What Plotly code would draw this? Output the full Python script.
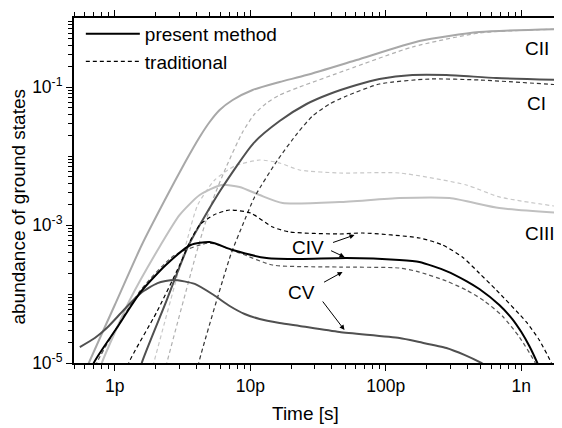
import plotly.graph_objects as go

# ---------------- data (time in ps, abundance) ----------------
cii_t = [0.571, 0.643, 1.0, 1.581, 2.34, 3.28, 4.23, 5.01, 5.94, 7.41, 10.4, 16.45, 26.0, 60.8, 177, 490, 1972]
cii_v = [5.7e-6, 1e-5, 6.93e-5, 5.13e-4, 2.3e-3, 7.92e-3, 0.01885, 0.0311, 0.0464, 0.0648, 0.0905, 0.1181, 0.149, 0.246, 0.464, 0.627, 0.693]
cii_tr_t = [2.26, 2.42, 4.16, 5.28, 6.69, 8.78, 10.76, 13.19, 16.45, 23.1, 51.3, 157, 490, 1972]
cii_tr_v = [5.7e-6, 1e-5, 5.13e-4, 2.3e-3, 7.16e-3, 0.0223, 0.0406, 0.0586, 0.0766, 0.1, 0.1764, 0.38, 0.606, 0.693]

ci_t = [1.477, 1.581, 2.34, 3.51, 6.04, 10.58, 16.45, 26.0, 38.4, 60.8, 89.8, 157, 280, 654, 1972]
ci_v = [5.7e-6, 1e-5, 6.93e-5, 5.13e-4, 3.21e-3, 0.0154, 0.0321, 0.0567, 0.0792, 0.1069, 0.1305, 0.1492, 0.1492, 0.135, 0.1263]
ci_tr_t = [3.95, 4.16, 7.16, 8.78, 10.76, 15.9, 22.3, 28.8, 38.4, 51.3, 89.8, 210, 490, 1972]
ci_tr_v = [5.7e-6, 1e-5, 3.67e-4, 1e-3, 2.55e-3, 8.75e-3, 0.0215, 0.038, 0.0567, 0.0741, 0.1105, 0.1305, 0.1263, 0.1069]

ciii_t = [0.737, 0.802, 1.29, 2.18, 3.01, 4.23, 6.14, 8.34, 11.72, 17.31, 45.5, 126, 295, 688, 1972]
ciii_v = [5.7e-6, 1e-5, 8.18e-5, 5.13e-4, 1.4e-3, 2.72e-3, 3.8e-3, 3.55e-3, 2.72e-3, 2.08e-3, 2.15e-3, 2.46e-3, 2.46e-3, 1.76e-3, 1.49e-3]
ciii_tr_t = [1.81, 1.939, 3.34, 4.09, 5.46, 7.66, 11.72, 16.45, 23.1, 45.5, 126, 393, 688, 1972]
ciii_tr_v = [5.7e-6, 1e-5, 5.13e-4, 1.95e-3, 4.49e-3, 7.16e-3, 8.75e-3, 7.92e-3, 6.27e-3, 5.67e-3, 5.67e-3, 3.8e-3, 2.55e-3, 1.82e-3]

civ_t = [0.654, 0.700, 1.034, 1.554, 2.38, 3.63, 5.01, 7.41, 13.19, 23.1, 51.3, 126, 177, 280, 393, 490, 688, 858, 1000, 1145, 1312, 1477]
civ_v = [5.7e-6, 1e-5, 3.21e-5, 1.07e-4, 2.63e-4, 5.13e-4, 5.67e-4, 4.34e-4, 3.32e-4, 3.21e-4, 3.32e-4, 3.11e-4, 2.91e-4, 2.15e-4, 1.54e-4, 1.18e-4, 6.93e-5, 4.34e-5, 2.81e-5, 1.76e-5, 1e-5, 5.7e-6]
civ_tr_t = [1.185, 1.268, 2.04, 3.01, 3.63, 4.23, 5.37, 7.04, 10.06, 14.61, 19.49, 45.5, 67.3, 177, 262, 367, 490, 654, 1088, 1357, 1664, 1781]
civ_tr_v = [5.7e-6, 1e-5, 5.48e-5, 2.63e-4, 6.06e-4, 1e-3, 1.4e-3, 1.65e-3, 1.49e-3, 9.35e-4, 7.92e-4, 7.41e-4, 7.66e-4, 6.48e-4, 5.13e-4, 3.44e-4, 2.0e-4, 1.14e-4, 3.93e-5, 2.15e-5, 1e-5, 6.8e-6]

cv_t = [0.552, 0.712, 0.873, 1.165, 1.554, 2.07, 2.72, 3.89, 5.37, 7.04, 9.08, 11.72, 16.45, 23.1, 45.5, 126, 177, 280, 380, 507, 581]
cv_v = [1.7e-5, 2.3e-5, 3.21e-5, 5.86e-5, 1.03e-4, 1.44e-4, 1.6e-4, 1.4e-4, 9.67e-5, 6.7e-5, 5.13e-5, 4.34e-5, 3.8e-5, 3.44e-5, 2.81e-5, 2.3e-5, 2.01e-5, 1.65e-5, 1.31e-5, 1e-5, 8.47e-6]
cv_tr_t = [0.688, 0.737, 1.554, 2.77, 5.01, 8.34, 14.61, 45.5, 126, 177, 280, 393, 534, 724, 967, 1268, 1357]
cv_tr_v = [5.7e-6, 1e-5, 1.14e-4, 3.67e-4, 5.48e-4, 3.93e-4, 2.63e-4, 2.46e-4, 2.38e-4, 2.08e-4, 1.54e-4, 1.14e-4, 7.92e-5, 4.8e-5, 2.38e-5, 1e-5, 7.16e-6]

x_tickvals_ps = [1, 10, 100, 1000]
x_ticktext = ["1p", "10p", "100p", "1n"]
y_tickvals = [1e-5, 1e-3, 1e-1]
y_ticktext = ["10<sup>-5</sup>", "10<sup>-3</sup>", "10<sup>-1</sup>"]
y_unlabeled_decades = [1e-4, 1e-2]

FONT = "Liberation Sans, Arial, sans-serif"
PS = 1e-12

def s(t):
    return [v * PS for v in t]

fig = go.Figure()

def add(t, v, color, width, dash=None, name=None, showlegend=False):
    fig.add_trace(go.Scatter(
        x=s(t), y=v, mode="lines",
        line=dict(color=color, width=width, dash=dash or "solid", shape="spline", smoothing=0.6),
        name=name, showlegend=showlegend, hoverinfo="skip"))

# light curves first (drawn underneath)
add(ciii_tr_t, ciii_tr_v, "#c8c8c8", 1.2, "4px,3px")
add(ciii_t, ciii_v, "#c0c0c0", 2.0)
add(cii_tr_t, cii_tr_v, "#b0b0b0", 1.2, "4px,3px")
add(cii_t, cii_v, "#a8a8a8", 2.0)
add(ci_tr_t, ci_tr_v, "#333333", 1.2, "4px,3px")
add(ci_t, ci_v, "#505050", 2.0)
add(cv_tr_t, cv_tr_v, "#555555", 1.2, "4px,3px")
add(cv_t, cv_v, "#505050", 2.0)
add(civ_t, civ_v, "#000000", 2.0, None, "present method", True)
add(civ_tr_t, civ_tr_v, "#000000", 1.2, "4px,3px", "traditional", True)

# minor ticks
x_minor = []
for dec in [1e-13, 1e-12, 1e-11, 1e-10, 1e-9]:
    for m in range(2, 10):
        val = m * dec
        if 0.49e-12 < val < 1.98e-9:
            x_minor.append(val)
y_minor = list(y_unlabeled_decades)
for dec in [1e-5, 1e-4, 1e-3, 1e-2, 1e-1]:
    for m in range(2, 10):
        y_minor.append(m * dec)

# The page places the figure 8px from the window's top-left corner.
fig.update_layout(
    width=554, height=420,
    margin=dict(l=66, r=0, t=10, b=65),
    paper_bgcolor="white", plot_bgcolor="white",
    font=dict(family=FONT, size=18, color="black"),
    showlegend=True,
    legend=dict(x=0.014, y=1.009, xanchor="left", yanchor="top", bgcolor="rgba(0,0,0,0)",
                font=dict(size=19, family=FONT), itemwidth=54, tracegroupgap=0),
    xaxis=dict(type="log", range=[-12.301, -8.70],
               tickmode="array", tickvals=[v * PS for v in x_tickvals_ps], ticktext=x_ticktext,
               ticks="outside", ticklen=6, tickwidth=1, tickcolor="black",
               showline=True, linecolor="black", linewidth=2, mirror="ticks",
               showgrid=False, zeroline=False, tickfont=dict(size=17.5),
               minor=dict(tickmode="array", tickvals=x_minor, ticks="outside", ticklen=4,
                          tickwidth=1, tickcolor="black", showgrid=False)),
    yaxis=dict(type="log", range=[-5, 0],
               tickmode="array", tickvals=y_tickvals, ticktext=y_ticktext,
               ticks="outside", ticklen=6, tickwidth=1, tickcolor="black",
               showline=True, linecolor="black", linewidth=2, mirror=False,
               showgrid=False, zeroline=False, tickfont=dict(size=17.5),
               minor=dict(tickmode="array", tickvals=y_minor, ticks="outside", ticklen=4,
                          tickwidth=1, tickcolor="black", showgrid=False)),
)

ann = []
labels = [("CII", -8.882, -0.435), ("CI", -8.889, -1.232), ("CIII", -8.86, -3.116),
          ("CIV", -10.577, -3.319), ("CV", -10.622, -3.971)]
for txt, x, y in labels:
    ann.append(dict(text=txt, x=x, y=y, xref="x", yref="y", showarrow=False,
                    font=dict(size=19, family=FONT), xanchor="center", yanchor="middle"))
arrows = [(-10.231, -3.145, -10.4005, -3.261),
          (-10.305, -3.464, -10.4153, -3.362),
          (-10.3195, -3.681, -10.467, -3.841),
          (-10.305, -4.522, -10.4742, -4.087)]
for hx, hy, tx, ty in arrows:
    ann.append(dict(text="", x=hx, y=hy, ax=tx, ay=ty, xref="x", yref="y", axref="x", ayref="y",
                    showarrow=True, arrowhead=2, arrowsize=1.0, arrowwidth=1, arrowcolor="black",
                    standoff=0, startstandoff=0))
ann.append(dict(text="abundance of ground states", x=-0.1137, y=0.452, xref="paper", yref="paper",
                showarrow=False, textangle=-90, font=dict(size=19, family=FONT),
                xanchor="center", yanchor="middle"))
ann.append(dict(text="Time [s]", x=0.475, y=-0.1478, xref="paper", yref="paper",
                showarrow=False, font=dict(size=19, family=FONT),
                xanchor="center", yanchor="middle"))
fig.update_layout(annotations=ann)

fig.write_html("out.html")
